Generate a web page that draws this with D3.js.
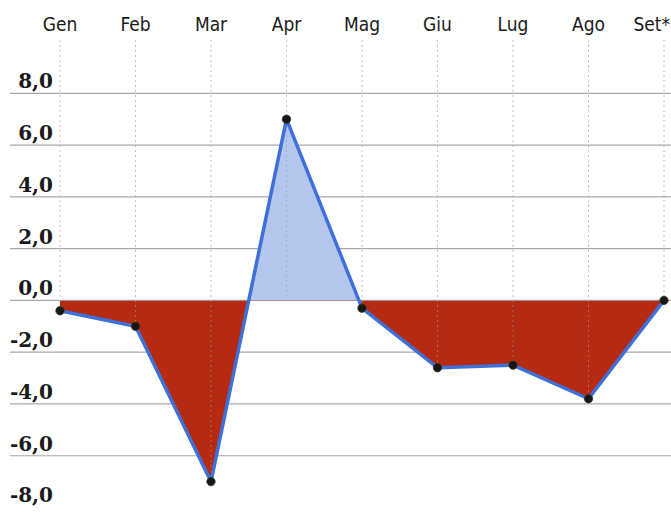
<!DOCTYPE html>
<html>
<head>
<meta charset="utf-8">
<script src="https://cdn.jsdelivr.net/npm/d3@7"></script>
<style>
  body { margin: 0; background: #fff; }
  svg { display: block; }
</style>
</head>
<body>
<svg id="chart" width="671" height="512"></svg>
<script>
const months = ["Gen", "Feb", "Mar", "Apr", "Mag", "Giu", "Lug", "Ago", "Set*"]
const values = [-0.4, -1.0, -7.0, 7.0, -0.3, -2.6, -2.5, -3.8, 0.0]
const yTicks = [8, 6, 4, 2, 0, -2, -4, -6, -8]

const width = 671, height = 512
const svg = d3.select("#chart")

const data = months.map((m, i) => ({month: m, value: values[i]}))

const x = d3.scalePoint().domain(months).range([60, 664])
const y = d3.scaleLinear().domain([-8, 8]).range([507.5, 93.3])

// griglia orizzontale
svg.append("g")
  .selectAll("line")
  .data(yTicks.filter(d => d > -8))
  .join("line")
  .attr("x1", 10).attr("x2", width)
  .attr("y1", d => y(d)).attr("y2", d => y(d))
  .attr("stroke", "#a8a8a8")
  .attr("stroke-width", 1.2)

// etichette asse y
svg.append("g")
  .selectAll("text")
  .data(yTicks)
  .join("text")
  .attr("x", 53)
  .attr("y", d => d === -8 ? y(d) - 6 : y(d) - 5)
  .attr("text-anchor", "end")
  .style("font", "bold 20px 'DejaVu Serif', serif")
  .attr("fill", "#1a1a1a")
  .text(d => d3.format(".1f")(d).replace(".", ",").replace("−", "-"))

// etichette mesi
svg.append("g")
  .selectAll("text")
  .data(months)
  .join("text")
  .attr("x", (d, i) => i === months.length - 1 ? width - 1 : x(d))
  .attr("y", 31)
  .attr("text-anchor", (d, i) => i === months.length - 1 ? "end" : "middle")
  .style("font-family", "'DejaVu Sans Condensed', 'DejaVu Sans', sans-serif")
  .style("font-size", "19px")
  .style("font-stretch", "condensed")
  .attr("fill", "#1a1a1a")
  .text(d => d)

// aree: sopra zero azzurro, sotto zero rosso
const area = d3.area()
  .x(d => x(d.month))
  .y0(y(0))
  .y1(d => y(d.value))

const defs = svg.append("defs")
defs.append("clipPath").attr("id", "above")
  .append("rect").attr("x", 0).attr("y", 0).attr("width", width).attr("height", y(0))
defs.append("clipPath").attr("id", "below")
  .append("rect").attr("x", 0).attr("y", y(0)).attr("width", width).attr("height", height - y(0))

svg.append("path")
  .datum(data)
  .attr("d", area)
  .attr("fill", "#b4c6ec")
  .attr("clip-path", "url(#above)")

svg.append("path")
  .datum(data)
  .attr("d", area)
  .attr("fill", "#b52a10")
  .attr("clip-path", "url(#below)")

// linee verticali tratteggiate
svg.append("g")
  .selectAll("line")
  .data(data)
  .join("line")
  .attr("x1", d => x(d.month)).attr("x2", d => x(d.month))
  .attr("y1", 40)
  .attr("y2", d => y(Math.min(0, d.value)))
  .attr("stroke", "#9a9a9a")
  .attr("stroke-opacity", 0.6)
  .attr("stroke-width", 1)
  .attr("stroke-dasharray", "2,3")

// linea dati
svg.append("path")
  .datum(data)
  .attr("d", d3.line().x(d => x(d.month)).y(d => y(d.value)))
  .attr("fill", "none")
  .attr("stroke", "#3f6fd8")
  .attr("stroke-width", 3.5)
  .attr("stroke-linejoin", "round")

// punti
svg.append("g")
  .selectAll("circle")
  .data(data)
  .join("circle")
  .attr("cx", d => x(d.month))
  .attr("cy", d => y(d.value))
  .attr("r", 4.2)
  .attr("fill", "#161616")
  .attr("stroke", "#2e3b22")
  .attr("stroke-width", 0.8)
</script>
</body>
</html>
